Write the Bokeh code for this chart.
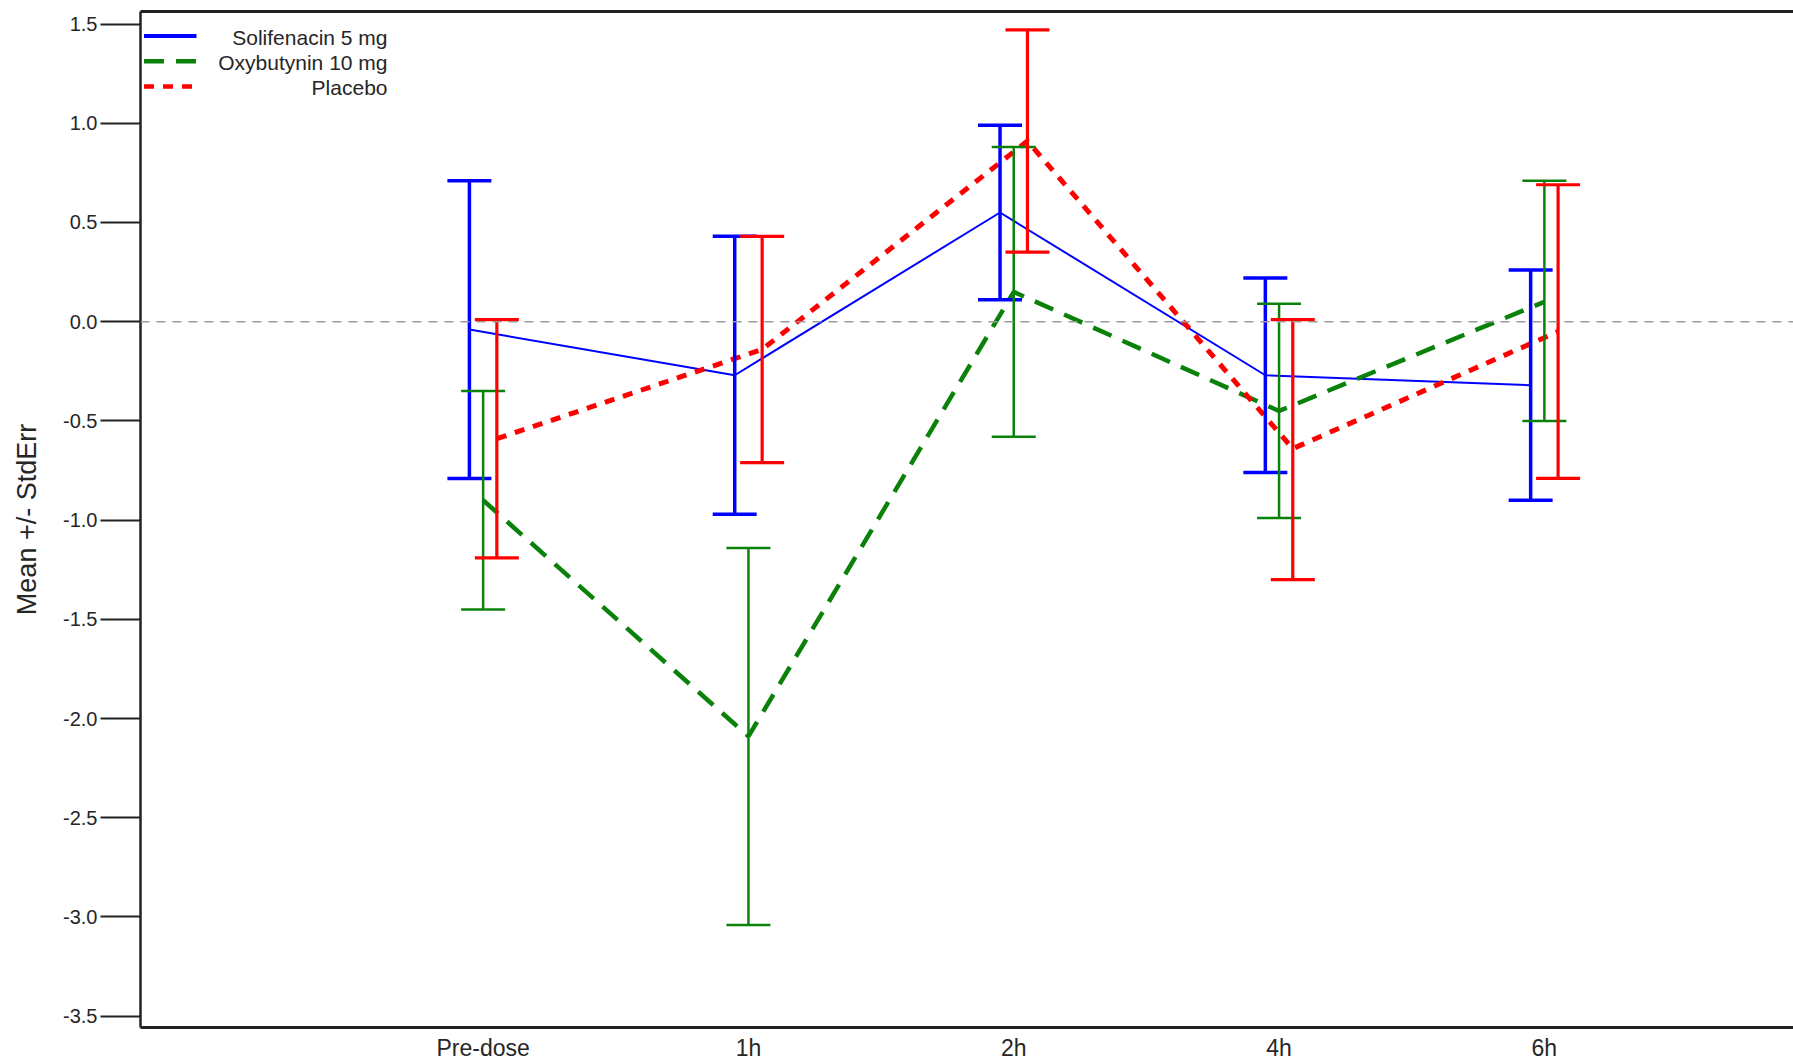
from bokeh.plotting import figure
from bokeh.models import (ColumnDataSource, Whisker, TeeHead, Span, Range1d, FixedTicker,
                          LinearAxis, Label, Arrow, NumeralTickFormatter)
from bokeh.embed import file_html
from bokeh.resources import INLINE

# ---------------- data ----------------
categories = ["Pre-dose", "1h", "2h", "4h", "6h"]

sol_mean = [-0.04, -0.27, 0.55, -0.27, -0.32]
sol_upper = [0.71, 0.43, 0.99, 0.22, 0.26]
sol_lower = [-0.79, -0.97, 0.11, -0.76, -0.90]

oxy_mean = [-0.90, -2.09, 0.15, -0.45, 0.10]
oxy_upper = [-0.35, -1.14, 0.88, 0.09, 0.71]
oxy_lower = [-1.45, -3.04, -0.58, -0.99, -0.50]

pla_mean = [-0.59, -0.14, 0.91, -0.64, -0.05]
pla_upper = [0.01, 0.43, 1.47, 0.01, 0.69]
pla_lower = [-1.19, -0.71, 0.35, -1.30, -0.79]

series_names = ["Solifenacin 5 mg", "Oxybutynin 10 mg", "Placebo"]
y_ticks = [1.5, 1.0, 0.5, 0.0, -0.5, -1.0, -1.5, -2.0, -2.5, -3.0, -3.5]

# ---------------- figure ----------------
FONT = "Liberation Sans"
TXT = "#262626"

p = figure(width=1793, height=1063, output_backend="svg", toolbar_location=None,
           x_range=Range1d(-0.2914, 5.939), y_range=Range1d(-3.557, 1.563),
           min_border_left=140, min_border_right=0, min_border_top=11, min_border_bottom=35,
           x_axis_location=None, y_axis_location=None)
p.outline_line_color = None
p.xgrid.grid_line_color = None
p.ygrid.grid_line_color = None
p.background_fill_color = "white"
p.border_fill_color = "white"

pos = list(range(1, len(categories) + 1))

# axes
yax = LinearAxis(ticker=FixedTicker(ticks=y_ticks), formatter=NumeralTickFormatter(format="0.0"),
                 axis_label="Mean +/- StdErr")
yax.axis_line_width = 2.5
yax.axis_line_color = "#222222"
yax.major_tick_out = 40
yax.major_tick_in = 0
yax.major_tick_line_width = 2
yax.major_tick_line_color = "#222222"
yax.minor_tick_line_color = None
yax.major_label_standoff = 3
yax.major_label_text_font = FONT
yax.major_label_text_font_size = "20px"
yax.major_label_text_color = TXT
yax.axis_label_text_font = FONT
yax.axis_label_text_font_size = "27px"
yax.axis_label_text_font_style = "normal"
yax.axis_label_text_color = TXT
yax.axis_label_standoff = 18
p.add_layout(yax, "left")

xax = LinearAxis(ticker=FixedTicker(ticks=pos),
                 major_label_overrides={i: c for i, c in zip(pos, categories)})
xax.axis_line_width = 3
xax.axis_line_color = "#222222"
xax.major_tick_line_color = None
xax.minor_tick_line_color = None
xax.major_tick_out = 0
xax.major_tick_in = 0
xax.major_label_standoff = 7
xax.major_label_text_font = FONT
xax.major_label_text_font_size = "23px"
xax.major_label_text_color = TXT
p.add_layout(xax, "below")

tax = LinearAxis(ticker=FixedTicker(ticks=[]))
tax.axis_line_width = 3
tax.axis_line_color = "#222222"
tax.major_tick_line_color = None
tax.minor_tick_line_color = None
tax.major_tick_out = 0
tax.major_tick_in = 0
tax.major_label_standoff = 0
tax.major_label_text_font_size = "0px"
p.add_layout(tax, "above")

# zero reference line
p.add_layout(Span(location=0, dimension="width", line_color="#9a9a9a",
                  line_width=1.5, line_dash="9 7"))

# ---------------- series ----------------
styles = [
    dict(color="#0000ff", offset=-0.0517, lw=2, dash="solid", bar_w=3.5),
    dict(color="#0a820a", offset=0.0, lw=4.5, dash="20 12", bar_w=2.5),
    dict(color="#ff0000", offset=0.0517, lw=5, dash="10 9", bar_w=3.2),
]
data = [(sol_mean, sol_upper, sol_lower), (oxy_mean, oxy_upper, oxy_lower),
        (pla_mean, pla_upper, pla_lower)]

for (m, u, l), st in zip(data, styles):
    xs = [x + st["offset"] for x in pos]
    src = ColumnDataSource(dict(x=xs, mean=m, upper=u, lower=l))
    w = Whisker(base="x", upper="upper", lower="lower", source=src,
                line_color=st["color"], line_width=st["bar_w"], level="glyph",
                upper_head=TeeHead(size=44, line_color=st["color"], line_width=st["bar_w"]),
                lower_head=TeeHead(size=44, line_color=st["color"], line_width=st["bar_w"]))
    p.add_layout(w)

for (m, u, l), st in zip(data, styles):
    xs = [x + st["offset"] for x in pos]
    src = ColumnDataSource(dict(x=xs, mean=m))
    p.line("x", "mean", source=src, line_color=st["color"], line_width=st["lw"],
           line_dash=st["dash"])

# ---------------- legend (screen units, relative to frame) ----------------
leg_y = [991.5, 966.3, 941.1]
leg_lw = [4, 4.5, 4.5]
for name, st, yy, lw in zip(series_names, styles, leg_y, leg_lw):
    p.add_layout(Arrow(end=None, x_start=3.5, y_start=yy, x_end=56, y_end=yy,
                       start_units="screen", end_units="screen",
                       line_color=st["color"], line_width=lw, line_dash=st["dash"]))
    p.add_layout(Label(x=247, y=yy - 1.5, x_units="screen", y_units="screen", text=name,
                       text_align="right", text_baseline="middle", text_font=FONT,
                       text_font_size="21px", text_color=TXT))

open("out.html", "w").write(file_html(p, INLINE))
